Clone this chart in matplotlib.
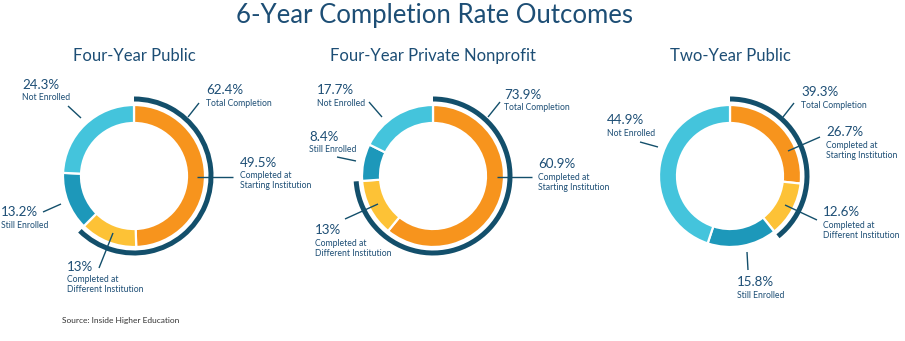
import matplotlib
matplotlib.use("Agg")
import matplotlib.pyplot as plt

plt.rcParams['font.family'] = ['Lato', 'DejaVu Sans']

# ---- data ----
titles = ["Four-Year Public", "Four-Year Private Nonprofit", "Two-Year Public"]
categories = ["Completed at Starting Institution", "Completed at Different Institution",
              "Still Enrolled", "Not Enrolled"]
starting = [49.5, 60.9, 26.7]
different = [13.0, 13.0, 12.6]
still = [13.2, 8.4, 15.8]
not_enrolled = [24.3, 17.7, 44.9]
total = [62.4, 73.9, 39.3]
pct_labels = [
    ["49.5%", "13%", "13.2%", "24.3%", "62.4%"],
    ["60.9%", "13%", "8.4%", "17.7%", "73.9%"],
    ["26.7%", "12.6%", "15.8%", "44.9%", "39.3%"],
]
sub_labels = [["Completed at", "Starting Institution"], ["Completed at", "Different Institution"],
              ["Still Enrolled"], ["Not Enrolled"], ["Total Completion"]]

colors = ["#F7941D", "#FDC236", "#1D98BA", "#44C4DC"]
dark = "#134F6B"
txt = "#1d4e75"

W, H = 905, 341
fig = plt.figure(figsize=(W / 100, H / 100), dpi=100)
ax = fig.add_axes([0, 0, 1, 1])
ax.set_xlim(0, W)
ax.set_ylim(0, H)
ax.set_aspect('equal')
ax.axis('off')

def Y(y):
    return H - y

centers = [(134, 176), (433, 176), (730, 176)]
R, WD = 71, 18

# layout: per donut, per label (order: starting, different, still, not, total)
# (text x, pct y, leader start (x,y), leader end (x,y))
layout = [
    [(240, 163, (197, 177), (233, 177)),
     (67, 267, (113, 233), (99, 268)),
     (1, 212, (61, 204), (43, 212)),
     (22, 85, (81, 118), (68, 106)),
     (206, 90, (188, 117), (199, 103))],
    [(538, 164, (497, 177), (532, 177)),
     (315, 230, (378, 204), (345, 219)),
     (309, 137, (356, 161), (337, 157)),
     (317, 90, (382, 117), (369, 102)),
     (504, 95, (488, 117), (500, 102))],
    [(826, 132, (788, 151), (820, 137)),
     (823, 212, (785, 205), (817, 220)),
     (737, 282, (747, 252), (748, 270)),
     (607, 120, (658, 147), (640, 142)),
     (801, 92, (783, 117), (794, 103))],
]

for i in range(3):
    cx, cy = centers[i]
    vals = [starting[i], different[i], still[i], not_enrolled[i]]
    ax.pie(vals, colors=colors, center=(cx, Y(cy)), radius=R, startangle=90,
           counterclock=False, normalize=True,
           wedgeprops=dict(width=WD, edgecolor='white', linewidth=1.6))
    ax.pie([total[i], 100 - total[i]], colors=[dark, 'none'], center=(cx, Y(cy)),
           radius=R + 8.5, startangle=90, counterclock=False, normalize=True,
           wedgeprops=dict(width=5, linewidth=0))
    ax.text(cx, Y(56), titles[i], fontsize=12, color=txt, ha='center', va='center')
    for j in range(5):
        tx, ty, p0, p1 = layout[i][j]
        ax.plot([p0[0], p1[0]], [Y(p0[1]), Y(p1[1])], color=dark, lw=1.0, solid_capstyle='butt')
        ax.text(tx, Y(ty), pct_labels[i][j], fontsize=9.6, color=txt, ha='left', va='center')
        for k, s in enumerate(sub_labels[j]):
            ax.text(tx, Y(ty + 13 + 10 * k), s, fontsize=6.2, color=txt, ha='left', va='center')

ax.text(434, Y(15), "6-Year Completion Rate Outcomes", fontsize=18.5, color=txt,
        ha='center', va='center')
ax.text(62, Y(321), "Source: Inside Higher Education", fontsize=6, color='#333333',
        ha='left', va='center')

ax.set_xlim(0, W)
ax.set_ylim(0, H)
ax.set_aspect('equal')
ax.axis('off')
fig.savefig("out.png", dpi=100, facecolor='white')
